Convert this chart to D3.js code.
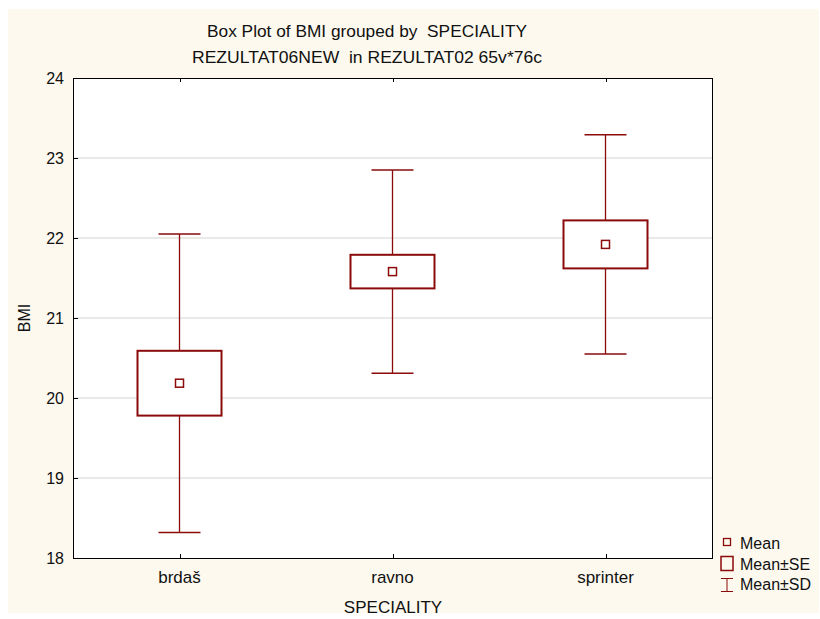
<!DOCTYPE html>
<html>
<head>
<meta charset="utf-8">
<script src="https://cdn.jsdelivr.net/npm/d3@7"></script>
<style>
  body { margin: 0; background: #fff; }
  text { font-family: "Liberation Sans", Arial, sans-serif; fill: #111; }
</style>
</head>
<body>
<script>
// values
var categories = ["brdaš", "ravno", "sprinter"];
var means = [20.185, 21.58, 21.92];
var se = [0.405, 0.21, 0.30];
var sd = [1.865, 1.27, 1.37];
var yTicks = [18, 19, 20, 21, 22, 23, 24];

var w = 820, h = 619;
var margin = {top: 78, left: 73, right: 108, bottom: 61};
var red = "#8b0a0a";

var svg = d3.select("body").append("svg")
  .attr("width", w)
  .attr("height", h);

// cream backdrop
svg.append("rect")
  .attr("x", 8).attr("y", 9)
  .attr("width", 811).attr("height", 604)
  .attr("fill", "#fdf9ef");

var x = d3.scaleBand()
  .domain(categories)
  .range([margin.left, w - margin.right]);

var y = d3.scaleLinear()
  .domain([18, 24])
  .range([h - margin.bottom, margin.top]);

var data = categories.map((c, i) => ({key: c, mean: means[i], se: se[i], sd: sd[i]}));

// plot area
svg.append("rect")
  .attr("x", margin.left).attr("y", margin.top)
  .attr("width", x.range()[1] - margin.left)
  .attr("height", y(18) - y(24))
  .attr("fill", "#fff");

// grid
svg.selectAll(".grid")
  .data(yTicks.slice(1, -1))
  .enter().append("line")
  .attr("x1", margin.left).attr("x2", x.range()[1])
  .attr("y1", d => y(d)).attr("y2", d => y(d))
  .attr("stroke", "#e2e2e2")
  .attr("stroke-width", 1.5);

// frame
svg.append("rect")
  .attr("x", margin.left + 0.5).attr("y", margin.top + 0.5)
  .attr("width", x.range()[1] - margin.left)
  .attr("height", y(18) - y(24))
  .attr("fill", "none")
  .attr("stroke", "#000");

// y ticks (inward) + labels
svg.selectAll(".ytick")
  .data(yTicks)
  .enter().append("line")
  .attr("x1", margin.left).attr("x2", margin.left + 5)
  .attr("y1", d => y(d) + 0.5).attr("y2", d => y(d) + 0.5)
  .attr("stroke", "#000");

svg.selectAll(".ylab")
  .data(yTicks)
  .enter().append("text")
  .attr("x", 64)
  .attr("y", d => y(d) + 6)
  .attr("text-anchor", "end")
  .style("font-size", "16px")
  .text(d => d);

// category ticks top/bottom
categories.forEach(c => {
  var cx = Math.round(x(c) + x.bandwidth() / 2) + 0.5;
  svg.append("line").attr("x1", cx).attr("x2", cx)
    .attr("y1", y(18)).attr("y2", y(18) - 4).attr("stroke", "#000");
  svg.append("line").attr("x1", cx).attr("x2", cx)
    .attr("y1", y(24)).attr("y2", y(24) + 4).attr("stroke", "#000");
});

svg.selectAll(".xlab")
  .data(categories)
  .enter().append("text")
  .attr("x", d => x(d) + x.bandwidth() / 2)
  .attr("y", 583)
  .attr("text-anchor", "middle")
  .style("font-size", "17px")
  .text(d => d);

// boxes
var cx = d => x(d.key) + x.bandwidth() / 2;
var g = svg.selectAll(".box").data(data).enter().append("g");

g.append("line")
  .attr("x1", cx).attr("x2", cx)
  .attr("y1", d => y(d.mean + d.sd)).attr("y2", d => y(d.mean - d.sd))
  .attr("stroke", red).attr("stroke-width", 1.3);

g.append("line")
  .attr("x1", d => cx(d) - 21).attr("x2", d => cx(d) + 21)
  .attr("y1", d => y(d.mean + d.sd)).attr("y2", d => y(d.mean + d.sd))
  .attr("stroke", red).attr("stroke-width", 1.5);

g.append("line")
  .attr("x1", d => cx(d) - 21).attr("x2", d => cx(d) + 21)
  .attr("y1", d => y(d.mean - d.sd)).attr("y2", d => y(d.mean - d.sd))
  .attr("stroke", red).attr("stroke-width", 1.5);

g.append("rect")
  .attr("x", d => cx(d) - 42)
  .attr("y", d => y(d.mean + d.se))
  .attr("width", 84)
  .attr("height", d => y(d.mean - d.se) - y(d.mean + d.se))
  .attr("fill", "#fff")
  .attr("stroke", red).attr("stroke-width", 2);

g.append("rect")
  .attr("x", d => cx(d) - 4)
  .attr("y", d => y(d.mean) - 4)
  .attr("width", 8).attr("height", 8)
  .attr("fill", "#fff")
  .attr("stroke", red).attr("stroke-width", 1.5);

// titles
svg.append("text")
  .attr("x", 367).attr("y", 37)
  .attr("text-anchor", "middle")
  .attr("textLength", 320)
  .attr("lengthAdjust", "spacingAndGlyphs")
  .style("font-size", "17px")
  .text("Box Plot of BMI grouped by  SPECIALITY")
  .attr("xml:space", "preserve");

svg.append("text")
  .attr("x", 367).attr("y", 63)
  .attr("text-anchor", "middle")
  .attr("textLength", 350)
  .attr("lengthAdjust", "spacingAndGlyphs")
  .style("font-size", "17px")
  .text("REZULTAT06NEW  in REZULTAT02 65v*76c")
  .attr("xml:space", "preserve");

svg.append("text")
  .attr("x", 393).attr("y", 613)
  .attr("text-anchor", "middle")
  .style("font-size", "17px")
  .text("SPECIALITY");

svg.append("text")
  .attr("transform", "translate(30," + y(21) + ") rotate(-90)")
  .attr("text-anchor", "middle")
  .style("font-size", "16px")
  .text("BMI");

// legend
var lg = svg.append("g");
lg.append("rect").attr("x", 723.5).attr("y", 538.5).attr("width", 7).attr("height", 7)
  .attr("fill", "none").attr("stroke", red).attr("stroke-width", 1.3);
lg.append("rect").attr("x", 721).attr("y", 556.5).attr("width", 12).attr("height", 14)
  .attr("fill", "none").attr("stroke", red).attr("stroke-width", 1.5);
lg.append("line").attr("x1", 721).attr("x2", 733).attr("y1", 578.5).attr("y2", 578.5).attr("stroke", red);
lg.append("line").attr("x1", 721).attr("x2", 733).attr("y1", 591.5).attr("y2", 591.5).attr("stroke", red);
lg.append("line").attr("x1", 727).attr("x2", 727).attr("y1", 578.5).attr("y2", 591.5).attr("stroke", red);

var legendLabels = ["Mean", "Mean±SE", "Mean±SD"];
lg.selectAll("text").data(legendLabels).enter().append("text")
  .attr("x", 740)
  .attr("y", (d, i) => 549 + i * 20.5)
  .style("font-size", "16px")
  .text(d => d);
</script>
</body>
</html>
